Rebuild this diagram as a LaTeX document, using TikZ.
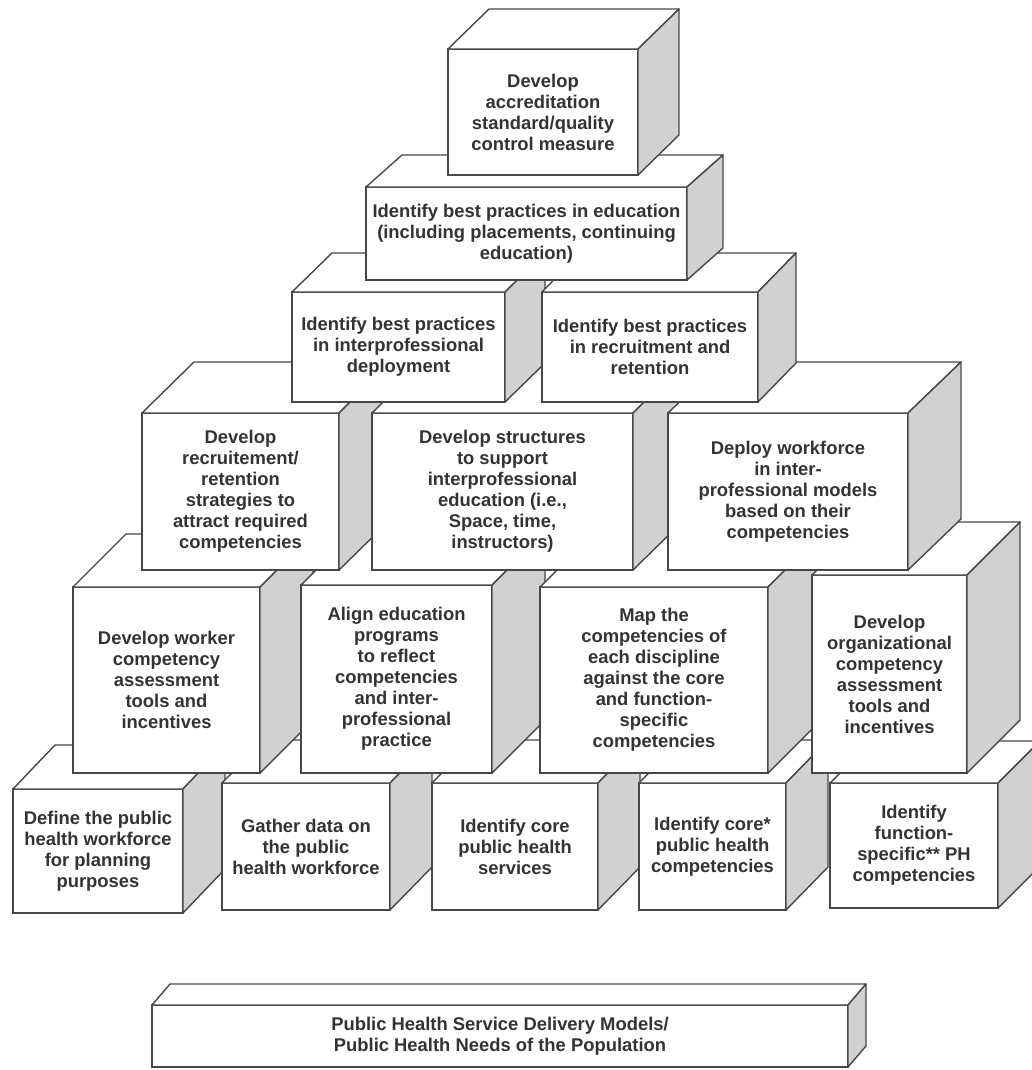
\documentclass[tikz,border=0pt]{standalone}
\usepackage{fontspec}
\setmainfont{Liberation Sans}
\begin{document}
\begin{tikzpicture}[x=1pt,y=-1pt,
  front/.style={draw=black!72, line width=1.4pt, fill=white, outer sep=0pt, inner sep=1pt,
     align=center, text=black!80, font=\bfseries\fontsize{18.4}{21}\selectfont},
  topface/.style={draw=black!72, line width=1.4pt, fill=white, line join=round},
  sideface/.style={draw=black!72, line width=1.4pt, fill=black!18, line join=round}]
\newcommand\pbox[8]{%
  \pgfmathsetmacro\pbW{#4-#2}\pgfmathsetmacro\pbH{#5-#3}%
  \node[front, minimum width=\pbW pt, minimum height=\pbH pt] (#1) at ({(#2+#4)/2},{(#3+#5)/2}) {#8};
  \filldraw[topface] (#1.north west) -- ++(#6,-#7) -- ++(\pbW,0) -- (#1.north east) -- cycle;
  \filldraw[sideface] (#1.north east) -- ++(#6,-#7) -- ++(0,\pbH) -- (#1.south east) -- cycle;
}
\useasboundingbox (0,0) rectangle (1032,1070);
% base bar
\pbox{base}{152}{1005}{848}{1067}{18}{21}{Public Health Service Delivery Models/\\Public Health Needs of the Population}
% row 1
\pbox{b1}{13}{789}{183}{913}{42}{44}{Define the public\\health workforce\\for planning\\purposes}
\pbox{b2}{222}{783}{390}{910}{42}{43}{Gather data on\\the public\\health workforce}
\pbox{b3}{432}{783}{598}{910}{42}{43}{Identify core\\public health\\services}
\pbox{b4}{639}{783}{786}{910}{42}{43}{Identify core*\\public health\\competencies}
\pbox{b5}{830}{783}{998}{908}{42}{42}{Identify\\function-\\specific** PH\\competencies}
% row 2
\pbox{c1}{73}{587}{260}{773}{53}{53}{Develop worker\\competency\\assessment\\tools and\\incentives}
\pbox{c2}{301}{585}{492}{773}{53}{53}{Align education\\programs\\to reflect\\competencies\\and inter-\\professional\\practice}
\pbox{c3}{540}{587}{768}{773}{53}{53}{Map the\\competencies of\\each discipline\\against the core\\and function-\\specific\\competencies}
\pbox{c4}{812}{575}{967}{773}{53}{53}{Develop\\organizational\\competency\\assessment\\tools and\\incentives}
% row 3
\pbox{d1}{142}{413}{339}{570}{52}{51}{Develop\\recruitement/\\retention\\strategies to\\attract required\\competencies}
\pbox{d2}{372}{413}{633}{570}{52}{51}{Develop structures\\to support\\interprofessional\\education (i.e.,\\Space, time,\\instructors)}
\pbox{d3}{668}{413}{908}{570}{53}{51}{Deploy workforce\\in inter-\\professional models\\based on their\\competencies}
% row 4
\pbox{e1}{292}{292}{505}{402}{40}{39}{Identify best practices\\in interprofessional\\deployment}
\pbox{e2}{542}{292}{758}{402}{38}{39}{Identify best practices\\in recruitment and\\retention}
% row 5
\pbox{f}{366}{187}{687}{280}{36}{32}{Identify best practices in education\\(including placements, continuing\\education)}
% row 6
\pbox{g}{448}{49}{638}{175}{41}{40}{Develop\\accreditation\\standard/quality\\control measure}
\end{tikzpicture}
\end{document}
